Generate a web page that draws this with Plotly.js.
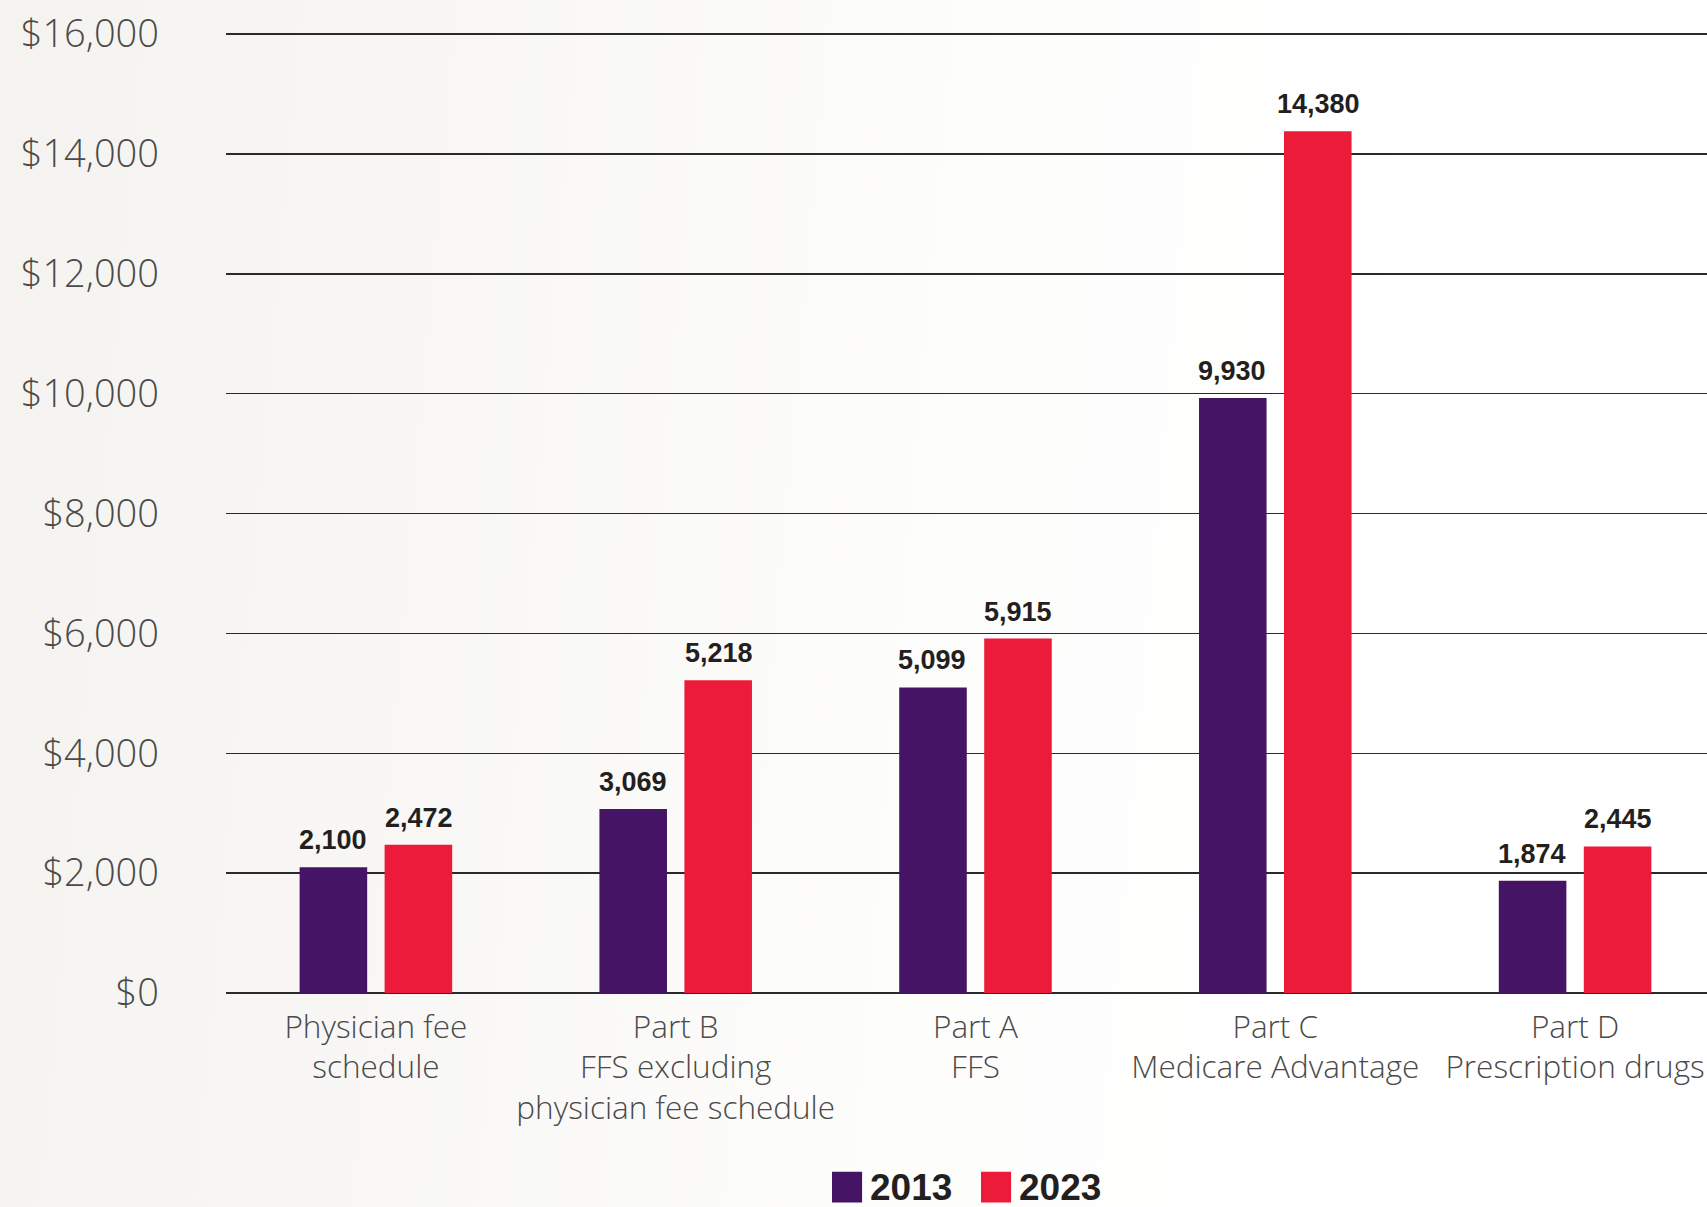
<!DOCTYPE html>
<html>
<head>
<meta charset="utf-8">
<script src="https://cdn.plot.ly/plotly-3.0.1.min.js"></script>
<style>
  html, body { margin: 0; padding: 0; width: 1707px; height: 1207px; overflow: hidden;
    background: linear-gradient(95deg, #f4f3f0 0%, #f8f7f5 25%, #fdfdfc 55%, #ffffff 80%); }
  #chart { width: 1707px; height: 1207px; }
</style>
</head>
<body>
<div id="chart"></div>
<script>
// ---- Data ----
const categories = ["Physician fee schedule", "Part B FFS excluding physician fee schedule", "Part A FFS", "Part C Medicare Advantage", "Part D Prescription drugs"];
const categoryLabels = ["Physician fee<br>schedule", "Part B<br>FFS excluding<br>physician fee schedule", "Part A<br>FFS", "Part C<br>Medicare Advantage", "Part D<br>Prescription drugs"];
const seriesNames = ["2013", "2023"];
const values2013 = [2100, 3069, 5099, 9930, 1874];
const values2023 = [2472, 5218, 5915, 14380, 2445];
const yTickValues = [0, 2000, 4000, 6000, 8000, 10000, 12000, 14000, 16000];

// ---- Styles ----
const colors = ["#451465", "#ed1b3a"];
const labelFont = "Liberation Sans, Arial, sans-serif";
const lightFont = "Open Sans, Noto Sans, Lato, sans-serif";

const seriesValues = [values2013, values2023];
const traces = seriesValues.map((vals, i) => ({
  type: "bar",
  name: seriesNames[i],
  x: categories,
  y: vals,
  marker: { color: colors[i], line: { width: 0 } },
  showlegend: false,
  hoverinfo: "skip"
}));

// value labels above bars
const annotations = [];
const shifts = [-43, 43];
seriesValues.forEach((vals, i) => {
  vals.forEach((v, j) => {
    annotations.push({
      x: categories[j], y: v, xref: "x", yref: "y",
      text: v.toLocaleString("en-US"),
      showarrow: false, xshift: shifts[i], yshift: 27, yanchor: "middle",
      font: { family: labelFont, size: 27, color: "#231f20", weight: 700 }
    });
  });
});

// custom legend
const legendX = [0.4092, 0.5098];
const shapes = [];
seriesNames.forEach((name, i) => {
  shapes.push({
    type: "rect", xref: "paper", yref: "paper",
    x0: legendX[i], x1: legendX[i] + 0.0203, y0: -0.2180, y1: -0.1860,
    fillcolor: colors[i], line: { width: 0 }
  });
  annotations.push({
    x: legendX[i] + 0.0245, y: -0.2025, xref: "paper", yref: "paper",
    xanchor: "left", yanchor: "middle", showarrow: false, text: name,
    font: { family: labelFont, size: 37, color: "#231f20", weight: 700 }
  });
});

const layout = {
  width: 1707, height: 1207,
  margin: { l: 226, r: 0, t: 32, b: 214, pad: 0 },
  paper_bgcolor: "rgba(0,0,0,0)",
  plot_bgcolor: "rgba(0,0,0,0)",
  barmode: "group",
  bargap: 0.433,
  bargroupgap: 0.205,
  showlegend: false,
  xaxis: {
    type: "category",
    range: [-0.5, 4.44],
    tickvals: categories,
    ticktext: categoryLabels,
    ticks: "",
    showgrid: false,
    showline: false,
    zeroline: false,
    automargin: false,
    tickangle: 0,
    ticklabelstandoff: 12,
    tickfont: { family: lightFont, size: 31.5, color: "#4a4a4a", weight: 300 }
  },
  yaxis: {
    range: [0, 16035],
    tickvals: yTickValues,
    ticktext: yTickValues.map(v => "$" + v.toLocaleString("en-US")),
    ticks: "",
    showgrid: true,
    gridcolor: "#2a2a2a",
    gridwidth: 1.5,
    zeroline: true,
    zerolinecolor: "#2a2a2a",
    zerolinewidth: 1.5,
    showline: false,
    automargin: false,
    ticklabelstandoff: 66,
    tickfont: { family: lightFont, size: 38, color: "#4a4a4a", weight: 300 }
  },
  annotations: annotations,
  shapes: shapes
};

Plotly.newPlot("chart", traces, layout, { displayModeBar: false, staticPlot: true });
</script>
</body>
</html>
